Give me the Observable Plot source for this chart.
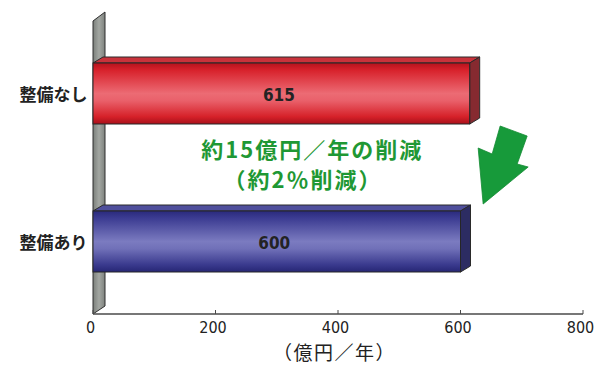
<!DOCTYPE html>
<html><head><meta charset="utf-8">
<script src="https://cdn.jsdelivr.net/npm/d3@7"></script>
<script src="https://cdn.jsdelivr.net/npm/@observablehq/plot@0.6"></script>
<style>
body{margin:0;background:#fff}
g[fill="#1f9834"] text{letter-spacing:2px}
g.xtitle text{letter-spacing:1.5px}
</style>
</head><body><div id="chart"></div>
<script>
// ---- data ----
const categories = ["整備なし", "整備あり"];
const values = [615, 600];
const xTicks = [0, 200, 400, 600, 800];
const xDomain = [0, 800];
const xLabel = "（億円／年）";
const annotationLines = ["約15億円／年の削減", "（約2％削減）"];
const annotationX = [357, 342];
const arrowTipX = [637];

const rows = categories.map((c, i) => ({cat: c, value: values[i]}));

// ---- style ----
const CJK = "'Noto Sans CJK JP', 'Noto Sans', sans-serif";
const NUM = "'Liberation Sans Narrow', 'DejaVu Sans Condensed', 'Roboto Condensed', 'Liberation Sans', sans-serif";
const faceStyle = {
  "整備なし": {front: "url(#gRed)", top: "#c9323b", side: "#862a30"},
  "整備あり": {front: "url(#gBlue)", top: "#4f4f9c", side: "#2c2c62"}
};
const DEPTH = [10, -6];
const WALL_DEPTH = [12, -9];
const W = 604, H = 367, ML = 93, MR = 21, MT = 21, MB = 53;

function ptsStr(p) { return p.map(d => d.join(",")).join(" "); }

// defs + wall
function wallMark(index, scales, v, dims) {
  const {x} = scales;
  const g = d3.create("svg:g");
  const defs = g.append("defs");
  const lg = (id, stops, horiz) => {
    const el = defs.append("linearGradient").attr("id", id)
      .attr("x1", 0).attr("y1", 0).attr("x2", horiz ? 1 : 0).attr("y2", horiz ? 0 : 1);
    stops.forEach(([o, c]) => el.append("stop").attr("offset", o).attr("stop-color", c));
  };
  lg("gRed", [[0, "#b5121c"], [0.12, "#d8222c"], [0.5, "#ec6b74"], [0.62, "#e9606a"], [0.88, "#d62129"], [1, "#a8101a"]]);
  lg("gBlue", [[0, "#2a2a7c"], [0.12, "#3c3c92"], [0.5, "#7b7bc0"], [0.62, "#7070b8"], [0.88, "#3a3a8e"], [1, "#262674"]]);
  lg("gWall", [[0, "#7b7f7b"], [0.5, "#a3a7a2"], [1, "#7e827e"]], true);
  const x0 = x(xDomain[0]);
  const top = dims.marginTop, bot = dims.height - dims.marginBottom;
  const [dx, dy] = WALL_DEPTH;
  g.append("polygon")
    .attr("points", ptsStr([[x0, top], [x0 + dx, top + dy], [x0 + dx, bot + dy + 1], [x0, bot]]))
    .attr("fill", "url(#gWall)").attr("stroke", "#2e2e2e").attr("stroke-width", 1);
  return g.node();
}

// 3D top and side faces of bars
function faceMark(index, scales, v, dims) {
  const {x, y} = scales;
  const bw = y.bandwidth();
  const [dx, dy] = DEPTH;
  const g = d3.create("svg:g");
  for (const r of rows) {
    const x0 = x(0), x1 = x(r.value), y0 = y(r.cat), y1 = y0 + bw;
    const st = faceStyle[r.cat];
    g.append("polygon").attr("points", ptsStr([[x0, y0], [x0 + dx, y0 + dy], [x1 + dx, y0 + dy], [x1, y0]]))
      .attr("fill", st.top).attr("stroke", "#2a2a2a").attr("stroke-width", 1).attr("stroke-linejoin", "round");
    g.append("polygon").attr("points", ptsStr([[x1, y0], [x1 + dx, y0 + dy], [x1 + dx, y1 + dy], [x1, y1]]))
      .attr("fill", st.side).attr("stroke", "#2a2a2a").attr("stroke-width", 1).attr("stroke-linejoin", "round");
  }
  return g.node();
}

// axis line and ticks
function axisMark(index, scales, v, dims) {
  const {x} = scales;
  const yb = dims.height - dims.marginBottom;
  const g = d3.create("svg:g").attr("stroke", "#4a4a4a");
  g.append("line").attr("x1", x(xDomain[0])).attr("x2", x(xDomain[1])).attr("y1", yb).attr("y2", yb).attr("stroke-width", 1.5);
  for (const t of xTicks) g.append("line").attr("x1", x(t)).attr("x2", x(t)).attr("y1", yb).attr("y2", yb - 4).attr("stroke-width", 1);
  return g.node();
}

// green block arrow
function arrowMark(index, scales, v, dims) {
  const {x, y} = scales;
  const tx = x(arrowTipX[0]);
  const ty = y(categories[1]) - 7;
  const shape = [[17, -78], [44, -68], [34, -40], [45, -37], [0, 0], [-5, -56], [9, -50]];
  const g = d3.create("svg:g");
  g.append("polygon").attr("points", ptsStr(shape.map(([a, b]) => [tx + a, ty + b])))
    .attr("fill", "#179a3a").attr("stroke", "#138a32").attr("stroke-width", 0.8);
  return g.node();
}

const chart = Plot.plot({
  width: W, height: H,
  marginLeft: ML, marginRight: MR, marginTop: MT, marginBottom: MB,
  style: {background: "#fff", overflow: "visible"},
  x: {domain: xDomain, axis: null},
  y: {domain: categories, axis: null, paddingInner: 0.59, paddingOuter: 0.28},
  marks: [
    wallMark,
    faceMark,
    Plot.barX(rows, {y: "cat", x: "value", fill: d => faceStyle[d.cat].front, stroke: "#262626", strokeWidth: 1}),
    axisMark,
    Plot.text(rows, {x: d => d.value / 2, y: "cat", text: d => String(d.value), dx: -3, dy: 2,
      fontSize: 17, fontWeight: "bold", fill: "#232323", fontFamily: NUM}),
    Plot.text(categories, {y: d => d, text: d => d, frameAnchor: "left", textAnchor: "end", dx: -6, dy: 2,
      fontSize: 17, fontWeight: "bold", fill: "#222", fontFamily: CJK}),
    Plot.text(xTicks, {x: d => d, text: d => String(d), frameAnchor: "bottom", lineAnchor: "middle", dy: 13, dx: -3,
      fontSize: 16, fill: "#222", fontFamily: NUM}),
    Plot.text([xLabel], {frameAnchor: "bottom", lineAnchor: "middle", dy: 39, dx: -4, fontSize: 19,
      fill: "#222", fontFamily: CJK, className: "xtitle"}),
    Plot.text([annotationLines[0]], {x: () => annotationX[0], frameAnchor: "middle", dy: -17,
      fontSize: 22, fontWeight: "bold", fill: "#1f9834", fontFamily: CJK}),
    Plot.text([annotationLines[1]], {x: () => annotationX[1], frameAnchor: "middle", dy: 13,
      fontSize: 22, fontWeight: "bold", fill: "#1f9834", fontFamily: CJK}),
    arrowMark
  ]
});
document.getElementById("chart").append(chart);
</script>
</body></html>
